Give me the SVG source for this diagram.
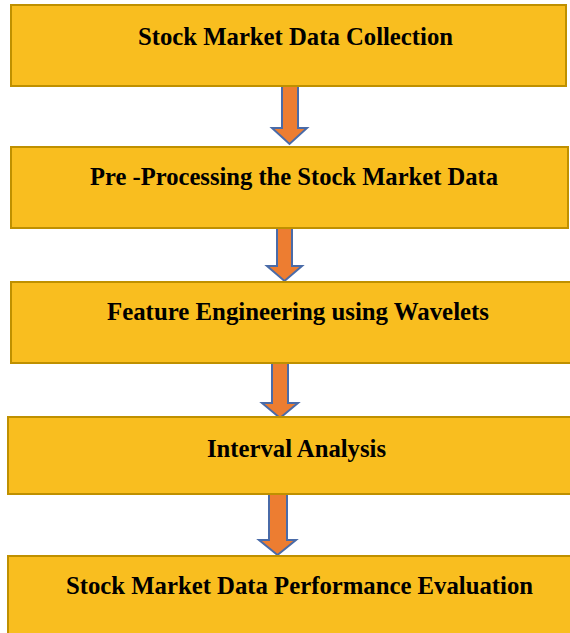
<svg xmlns="http://www.w3.org/2000/svg" width="570" height="633" viewBox="0 0 570 633">
<style>
.box{fill:#F9BE1F;stroke:#BF9000;stroke-width:2}
.lbl{font-family:"Liberation Serif","Times New Roman",serif;font-weight:bold;font-size:24.7px;fill:#000}
.arr{fill:#ED7D31;stroke:#4A6BA8;stroke-width:2;stroke-linejoin:miter}
</style>
<rect width="570" height="633" fill="#fff"/>
<g id="connectors">
<polygon class="arr" points="282,86 298,86 298,128 307,128 289.5,144 272,128 282,128"/>
<polygon class="arr" points="277,228 292,228 292,266 302,266 284.5,281 267,266 277,266"/>
<polygon class="arr" points="272,363 288,363 288,403 298,403 280,418 262,403 272,403"/>
<polygon class="arr" points="269,494 287,494 287,540 296,540 277.5,555 259,540 269,540"/>
</g>
<g id="n1"><rect class="box" x="11" y="5" width="555" height="81"/><text class="lbl" x="138" y="45" textLength="315" lengthAdjust="spacingAndGlyphs">Stock Market Data Collection</text></g>
<g id="n2"><rect class="box" x="11" y="147" width="557" height="81"/><text class="lbl" x="90" y="185" textLength="408" lengthAdjust="spacingAndGlyphs">Pre -Processing the Stock Market Data</text></g>
<g id="n3"><rect class="box" x="11" y="282" width="560" height="81"/><text class="lbl" x="107" y="320" textLength="382" lengthAdjust="spacingAndGlyphs">Feature Engineering using Wavelets</text></g>
<g id="n4"><rect class="box" x="8" y="417" width="564" height="77"/><text class="lbl" x="207" y="457" textLength="179" lengthAdjust="spacingAndGlyphs">Interval Analysis</text></g>
<g id="n5"><rect class="box" x="8" y="556" width="564" height="80"/><text class="lbl" x="66" y="594" textLength="467" lengthAdjust="spacingAndGlyphs">Stock Market Data Performance Evaluation</text></g>
</svg>
